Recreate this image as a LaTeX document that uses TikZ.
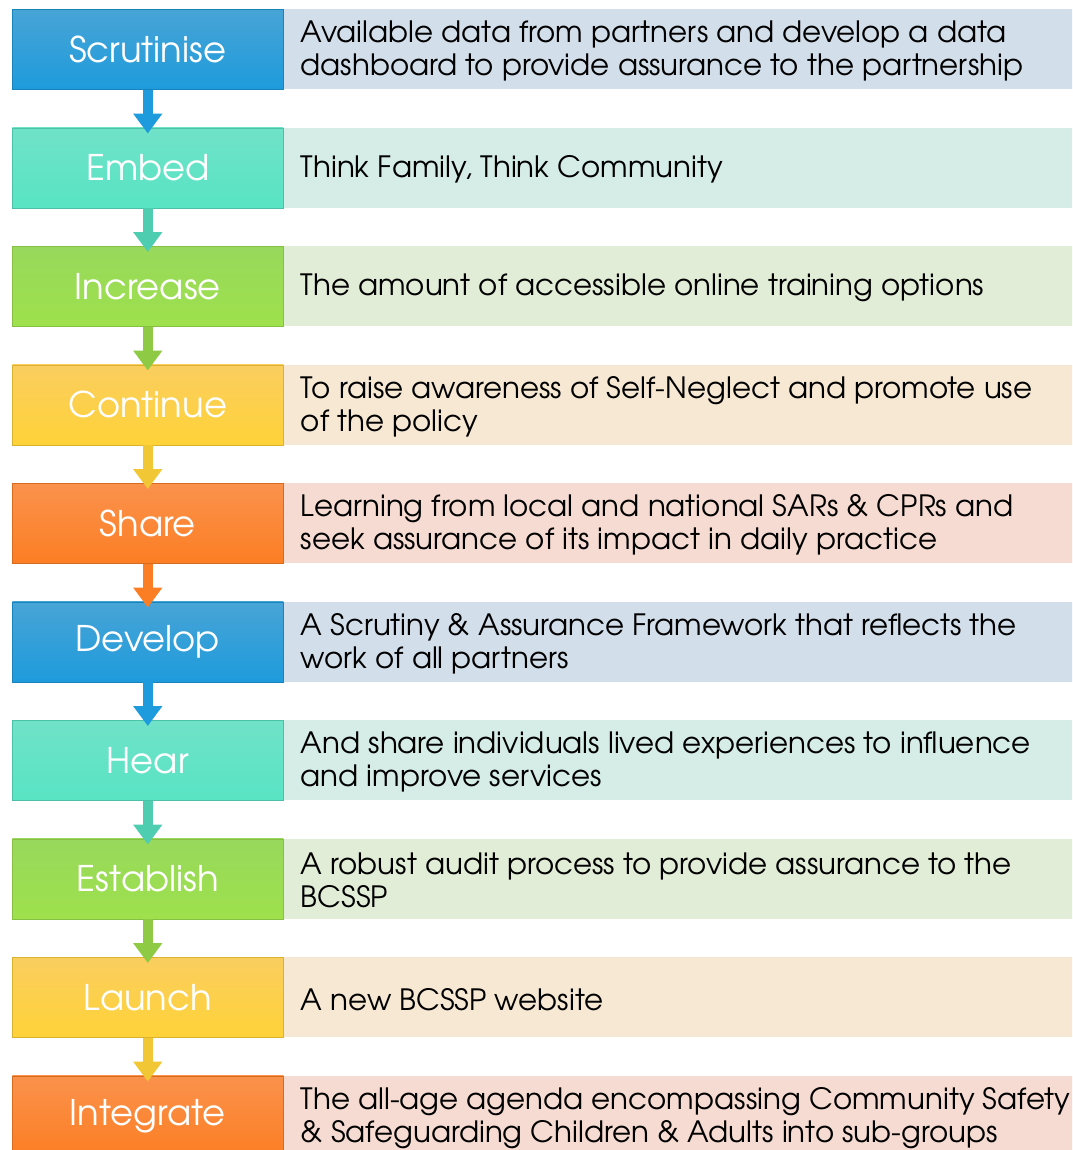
\documentclass[tikz,border=0pt]{standalone}
\usepackage{fontspec}
\setmainfont{texgyreadventor}[
    Extension = .otf,
    UprightFont = *-regular,
    BoldFont = *-bold
]
\usetikzlibrary{
    arrows.meta,
    positioning
}
% box colours: top / bottom of the verb box, fill of the band
\definecolor{blueT}{RGB}{72,164,214}
\definecolor{blueB}{RGB}{30,155,220}
\definecolor{blueR}{RGB}{210,222,234}
\definecolor{tealT}{RGB}{112,226,200}
\definecolor{tealB}{RGB}{88,228,196}
\definecolor{tealR}{RGB}{213,237,230}
\definecolor{greenT}{RGB}{152,216,92}
\definecolor{greenB}{RGB}{158,225,76}
\definecolor{greenR}{RGB}{226,237,216}
\definecolor{yellowT}{RGB}{250,206,95}
\definecolor{yellowB}{RGB}{255,210,56}
\definecolor{yellowR}{RGB}{247,232,212}
\definecolor{orangeT}{RGB}{250,146,76}
\definecolor{orangeB}{RGB}{252,126,36}
\definecolor{orangeR}{RGB}{245,219,209}
\tikzset {
    verb/.style 2 args = {
        rectangle,
        anchor = north west,
        minimum width = 203.25pt,
        minimum height = 60pt,
        top color = #1,
        bottom color = #2,
        draw = #2!85!black,
        line width = .4pt,
        text = white,
        font = \fontsize{26.5}{30}\selectfont
    },
    band/.style = {
        rectangle,
        inner sep = 0pt,
        minimum width = 591.75pt,
        minimum height = 60pt,
        fill = #1
    },
    desc/.style = {
        anchor = west,
        align = left,
        inner sep = 0pt,
        yshift = -1.5pt,
        font = \fontsize{22}{24.75}\selectfont
    },
    flow/.style = {
        line width = 7.5pt,
        draw = #1,
        arrows = {-Triangle[width = 21pt, length = 15pt]},
        shorten >= -4.5pt
    }
}
\begin{document}
\begin{tikzpicture}[x = 0.75pt, y = -0.75pt]
    \useasboundingbox (0, 0) rectangle (1072, 1150);
    \clip (0, 0) rectangle (1072, 1150);
    % left column
    \node (scr) [verb = {blueT}{blueB}] at (12, 9) {Scrutinise};
    \node (emb) [verb = {tealT}{tealB}] at (12, 127.5) {Embed};
    \node (inc) [verb = {greenT}{greenB}] at (12, 246) {Increase};
    \node (con) [verb = {yellowT}{yellowB}] at (12, 364.5) {Continue};
    \node (sha) [verb = {orangeT}{orangeB}] at (12, 483) {Share};
    \node (dev) [verb = {blueT}{blueB}] at (12, 601.5) {Develop};
    \node (hea) [verb = {tealT}{tealB}] at (12, 720) {Hear};
    \node (est) [verb = {greenT}{greenB}] at (12, 838.5) {Establish};
    \node (lau) [verb = {yellowT}{yellowB}] at (12, 957) {Launch};
    \node (int) [verb = {orangeT}{orangeB}] at (12, 1075.5) {Integrate};
    % bands
    \node (scr-b) [band = blueR, right = 0pt of scr] {};
    \node (emb-b) [band = tealR, right = 0pt of emb] {};
    \node (inc-b) [band = greenR, right = 0pt of inc] {};
    \node (con-b) [band = yellowR, right = 0pt of con] {};
    \node (sha-b) [band = orangeR, right = 0pt of sha] {};
    \node (dev-b) [band = blueR, right = 0pt of dev] {};
    \node (hea-b) [band = tealR, right = 0pt of hea] {};
    \node (est-b) [band = greenR, right = 0pt of est] {};
    \node (lau-b) [band = yellowR, right = 0pt of lau] {};
    \node (int-b) [band = orangeR, right = 0pt of int] {};
    % texts
    \node (scr-t) [desc] at ([xshift = 12.75pt] scr-b.west)
        {Available data from partners and develop a data\\dashboard to provide assurance to the partnership};
    \node (emb-t) [desc] at ([xshift = 12.75pt] emb-b.west)
        {Think Family, Think Community};
    \node (inc-t) [desc] at ([xshift = 12.75pt] inc-b.west)
        {The amount of accessible online training options};
    \node (con-t) [desc] at ([xshift = 12.75pt] con-b.west)
        {To raise awareness of Self-Neglect and promote use\\of the policy};
    \node (sha-t) [desc] at ([xshift = 12.75pt] sha-b.west)
        {Learning from local and national SARs \& CPRs and\\seek assurance of its impact in daily practice};
    \node (dev-t) [desc] at ([xshift = 12.75pt] dev-b.west)
        {A Scrutiny \& Assurance Framework that reflects the\\work of all partners};
    \node (hea-t) [desc] at ([xshift = 12.75pt] hea-b.west)
        {And share individuals lived experiences to influence\\and improve services};
    \node (est-t) [desc] at ([xshift = 12.75pt] est-b.west)
        {A robust audit process to provide assurance to the\\BCSSP};
    \node (lau-t) [desc] at ([xshift = 12.75pt] lau-b.west)
        {A new BCSSP website};
    \node (int-t) [desc] at ([xshift = 12.75pt] int-b.west)
        {The all-age agenda encompassing Community Safety\\\& Safeguarding Children \& Adults into sub-groups};
    % arrows
    \draw [flow = blueB] (scr.south) -- (emb.north);
    \draw [flow = tealB!90!black] (emb.south) -- (inc.north);
    \draw [flow = greenB!90!black] (inc.south) -- (con.north);
    \draw [flow = yellowB!95!black] (con.south) -- (sha.north);
    \draw [flow = orangeB] (sha.south) -- (dev.north);
    \draw [flow = blueB] (dev.south) -- (hea.north);
    \draw [flow = tealB!90!black] (hea.south) -- (est.north);
    \draw [flow = greenB!90!black] (est.south) -- (lau.north);
    \draw [flow = yellowB!95!black] (lau.south) -- (int.north);
\end{tikzpicture}
\end{document}
